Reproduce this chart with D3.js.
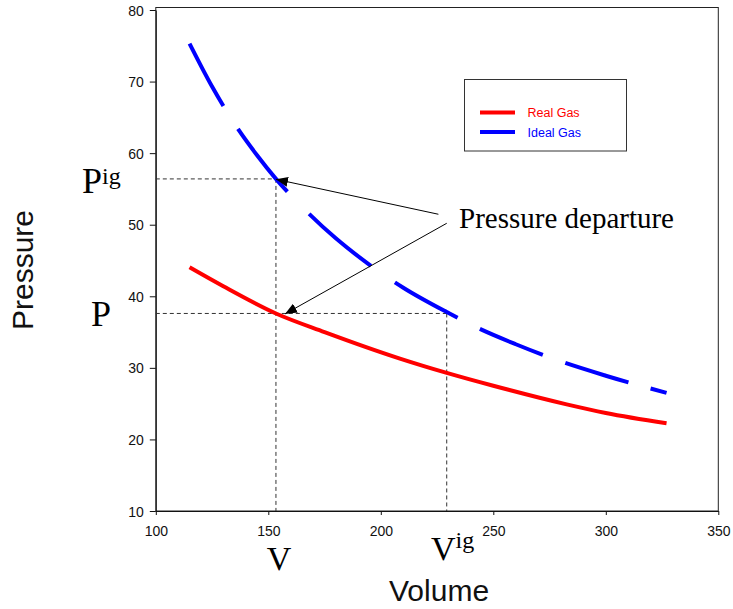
<!DOCTYPE html>
<html>
<head>
<meta charset="utf-8">
<script src="https://cdn.jsdelivr.net/npm/d3@7"></script>
<style>
  html, body { margin: 0; padding: 0; background: #fff; }
  svg { display: block; }
</style>
</head>
<body>
<svg id="chart" width="733" height="609"></svg>
<script>
// ---- data ----
const realVolume   = [115, 130, 153.4, 175, 208.5, 229.3, 250, 282.6, 300, 327];
const realPressure = [44.05, 41.4, 37.6, 35.0, 31.3, 29.3, 27.5, 24.9, 23.7, 22.25];

const idealVolume   = [115, 125, 135, 145, 153.4, 165, 180, 195, 210, 229.3, 245, 260, 280, 300, 327];
const idealPressure = [75.3, 69.3, 64.1, 59.7, 56.4, 52.5, 48.1, 44.4, 41.2, 37.8, 35.3, 33.3, 30.9, 28.9, 26.5];

const xTicks = [100, 150, 200, 250, 300, 350];
const yTicks = [10, 20, 30, 40, 50, 60, 70, 80];

const seriesNames = ["Real Gas", "Ideal Gas"];

// state points used by the annotation
const stateV = 153.4, stateP = 37.6, idealP = 56.4, idealV = 229.3;
// arrow starts (near the label) and tips, in data units
const arrowStarts = [[225.6, 51.46], [229.3, 50.2]];
const arrowTips   = [[153.4, 56.35], [157.4, 37.53]];

// ---- layout ----
const svg = d3.select("#chart");
const pLeft = 155.8, pRight = 718.3, pTop = 10, pBottom = 511;
const x = d3.scaleLinear().domain([100, 350]).range([pLeft, pRight]);
const y = d3.scaleLinear().domain([10, 80]).range([pBottom, pTop]);

const sans = "'Liberation Sans', Arial, Helvetica, sans-serif";
const serif = "'Liberation Serif', 'Times New Roman', Times, serif";

// frame
svg.append("rect")
  .attr("x", pLeft).attr("y", pTop - 2.5)
  .attr("width", pRight - pLeft).attr("height", pBottom - pTop + 2.5)
  .attr("fill", "none").attr("stroke", "#222").attr("stroke-width", 1);

// axes
const xAxis = svg.append("g").attr("transform", `translate(0,${pBottom})`)
  .call(d3.axisBottom(x).tickValues(xTicks).tickSize(4).tickSizeOuter(0).tickFormat(d3.format("d")));
xAxis.select(".domain").attr("stroke", "#111");
xAxis.selectAll(".tick line").attr("stroke", "#111");
xAxis.selectAll(".tick text").attr("y", 25).attr("dy", 0)
  .attr("font-family", sans).attr("font-size", 14).attr("fill", "#111");

const yAxis = svg.append("g").attr("transform", `translate(${pLeft},0)`)
  .call(d3.axisLeft(y).tickValues(yTicks).tickSize(6).tickSizeOuter(0).tickFormat(d3.format("d")));
yAxis.select(".domain").attr("stroke", "#111");
yAxis.selectAll(".tick line").attr("stroke", "#111");
yAxis.selectAll(".tick text").attr("x", -12).attr("dy", "0.36em")
  .attr("font-family", sans).attr("font-size", 14).attr("fill", "#111");

// axis titles
svg.append("text").attr("x", (pLeft + pRight) / 2 + 2).attr("y", 601)
  .attr("text-anchor", "middle").attr("font-family", sans).attr("font-size", 30)
  .attr("fill", "#111").text("Volume");
svg.append("text").attr("transform", "translate(33,270) rotate(-90)")
  .attr("text-anchor", "middle").attr("font-family", sans).attr("font-size", 30)
  .attr("fill", "#111").text("Pressure");

// dashed guide lines
const guide = svg.append("g").attr("stroke", "#333").attr("stroke-width", 1)
  .attr("stroke-dasharray", "4,3").attr("fill", "none");
guide.append("line").attr("x1", x(100)).attr("x2", x(stateV)).attr("y1", y(idealP)).attr("y2", y(idealP));
guide.append("line").attr("x1", x(stateV)).attr("x2", x(stateV)).attr("y1", y(idealP)).attr("y2", y(10));
guide.append("line").attr("x1", x(100)).attr("x2", x(idealV)).attr("y1", y(stateP)).attr("y2", y(stateP));
guide.append("line").attr("x1", x(idealV)).attr("x2", x(idealV)).attr("y1", y(stateP)).attr("y2", y(10));

// curves
const line = d3.line().x(d => x(d[0])).y(d => y(d[1])).curve(d3.curveMonotoneX);
const realData = realVolume.map((v, i) => [v, realPressure[i]]);
const idealData = idealVolume.map((v, i) => [v, idealPressure[i]]);

svg.append("path").datum(realData).attr("d", line)
  .attr("fill", "none").attr("stroke", "#ff0000").attr("stroke-width", 4);
svg.append("path").datum(idealData).attr("d", line)
  .attr("fill", "none").attr("stroke", "#0000ff").attr("stroke-width", 4)
  .attr("stroke-dasharray", "71,27,80,31,81,29,72,25,68,24,66,23,40");

// arrows
svg.append("defs").append("marker")
  .attr("id", "arrow").attr("viewBox", "0 0 12 10")
  .attr("refX", 12).attr("refY", 5)
  .attr("markerWidth", 12).attr("markerHeight", 10)
  .attr("markerUnits", "userSpaceOnUse").attr("orient", "auto")
  .append("path").attr("d", "M0,0 L12,5 L0,10 Z").attr("fill", "#000");
arrowStarts.forEach((s, i) => {
  const t = arrowTips[i];
  svg.append("line")
    .attr("x1", x(s[0])).attr("y1", y(s[1]))
    .attr("x2", x(t[0])).attr("y2", y(t[1]))
    .attr("stroke", "#000").attr("stroke-width", 1)
    .attr("marker-end", "url(#arrow)");
});

// annotation text
svg.append("text").attr("x", 459).attr("y", 228)
  .attr("font-family", serif).attr("font-size", 29).attr("fill", "#000")
  .text("Pressure departure");

const pig = svg.append("text").attr("x", 82).attr("y", y(idealP) + 14)
  .attr("font-family", serif).attr("font-size", 36).attr("fill", "#000");
pig.append("tspan").text("P");
pig.append("tspan").attr("font-size", 24).attr("dy", -9).text("ig");

svg.append("text").attr("x", 91).attr("y", y(stateP) + 12.5)
  .attr("font-family", serif).attr("font-size", 36).attr("fill", "#000").text("P");

svg.append("text").attr("x", x(stateV) + 3).attr("y", 570)
  .attr("text-anchor", "middle")
  .attr("font-family", serif).attr("font-size", 34).attr("fill", "#000").text("V");

const vig = svg.append("text").attr("x", 431).attr("y", 560)
  .attr("font-family", serif).attr("font-size", 34).attr("fill", "#000");
vig.append("tspan").text("V");
vig.append("tspan").attr("font-size", 24).attr("dy", -12).text("ig");

// legend
const legend = svg.append("g");
legend.append("rect").attr("x", 464.5).attr("y", 79.5).attr("width", 162).attr("height", 71.5)
  .attr("fill", "#fff").attr("stroke", "#333").attr("stroke-width", 1);
const legendColors = ["#ff0000", "#0000ff"];
seriesNames.forEach((name, i) => {
  const ly = 112.5 + i * 19.5;
  legend.append("line").attr("x1", 480).attr("x2", 515).attr("y1", ly).attr("y2", ly)
    .attr("stroke", legendColors[i]).attr("stroke-width", 4);
  legend.append("text").attr("x", 527.5).attr("y", ly + 4.5)
    .attr("font-family", sans).attr("font-size", 12.5).attr("fill", legendColors[i]).text(name);
});
</script>
</body>
</html>
